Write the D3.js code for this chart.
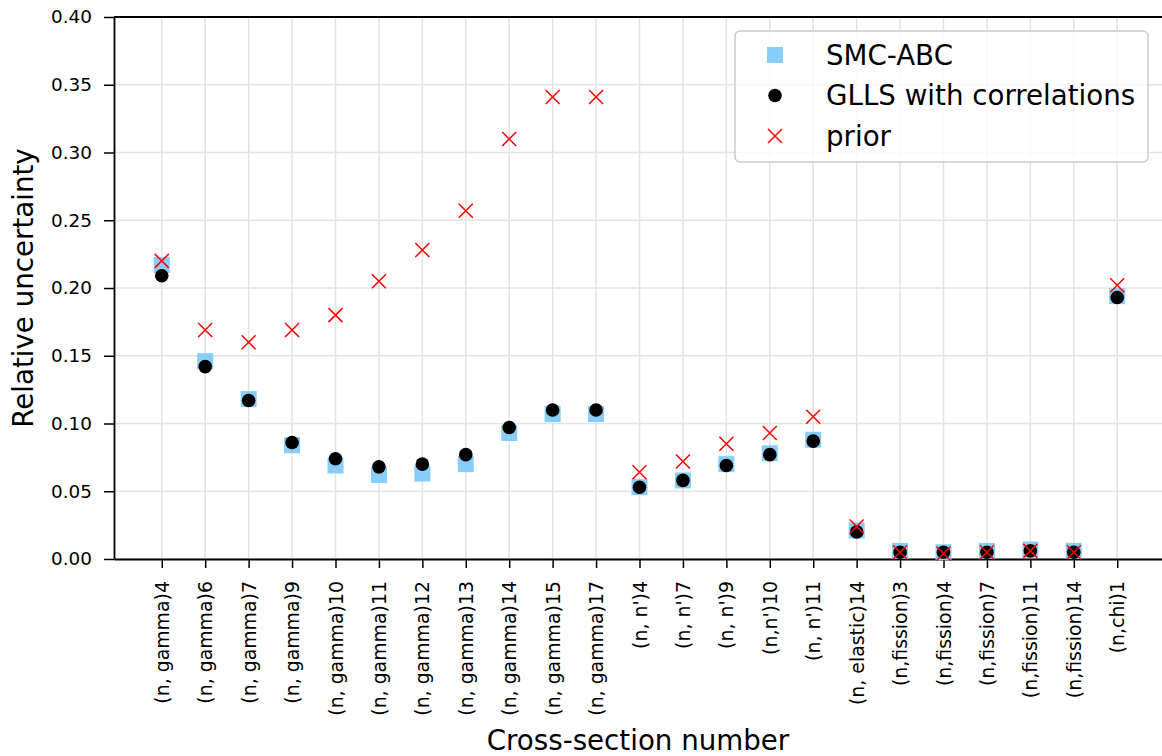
<!DOCTYPE html>
<html lang="en">
<head>
<meta charset="utf-8">
<title>Relative uncertainty per cross-section</title>
<script src="https://d3js.org/d3.v7.min.js"></script>
<style type="text/css">
  body { margin: 0; background: #fff; }
  text { font-family: "DejaVu Sans", sans-serif; }
</style>
</head>
<body>
<script type="text/javascript">
// categories on the x axis
var sections = ["(n, gamma)4", "(n, gamma)6", "(n, gamma)7", "(n, gamma)9", "(n, gamma)10",
  "(n, gamma)11", "(n, gamma)12", "(n, gamma)13", "(n, gamma)14", "(n, gamma)15", "(n, gamma)17",
  "(n, n')4", "(n, n')7", "(n, n')9", "(n,n')10", "(n, n')11", "(n, elastic)14",
  "(n,fission)3", "(n,fission)4", "(n,fission)7", "(n,fission)11", "(n,fission)14", "(n,chi)1"];

// series values
var smcAbc = [0.217, 0.146, 0.118, 0.084, 0.069, 0.062, 0.063, 0.070, 0.093, 0.107, 0.107,
  0.053, 0.058, 0.070, 0.078, 0.088, 0.021, 0.006, 0.005, 0.006, 0.007, 0.006, 0.194];
var glls = [0.209, 0.142, 0.117, 0.086, 0.074, 0.068, 0.070, 0.077, 0.097, 0.110, 0.110,
  0.053, 0.058, 0.069, 0.077, 0.087, 0.020, 0.005, 0.005, 0.005, 0.006, 0.005, 0.193];
var prior = [0.220, 0.169, 0.160, 0.169, 0.180, 0.205, 0.228, 0.257, 0.310, 0.341, 0.341,
  0.064, 0.072, 0.085, 0.093, 0.105, 0.024, 0.005, 0.004, 0.005, 0.006, 0.005, 0.202];

var yTicks = [0, 0.05, 0.10, 0.15, 0.20, 0.25, 0.30, 0.35, 0.40];
var legendLabels = ["SMC-ABC", "GLLS with correlations", "prior"];

var outerWidth = 1162, outerHeight = 756;
var margin = {top: 17, left: 114, bottom: 197};
var plotBottom = outerHeight - margin.bottom;

var svg = d3.select("body").append("svg")
  .attr("width", outerWidth)
  .attr("height", outerHeight);

//x is an index scale, matplotlib style margins of 5%
var pad = (sections.length - 1) * 0.05;
var x = d3.scaleLinear()
  .domain([-pad, sections.length - 1 + pad])
  .range([margin.left, margin.left + 1051]);

var y = d3.scaleLinear()
  .domain([0, 0.4])
  .range([plotBottom, margin.top]);

// grid
var grid = svg.append("g").attr("class", "grid");
grid.selectAll("line.gx")
  .data(d3.range(sections.length))
  .enter().append("line")
  .attr("x1", function(d) { return x(d); })
  .attr("x2", function(d) { return x(d); })
  .attr("y1", margin.top).attr("y2", plotBottom)
  .attr("stroke", "#e3e3e3").attr("stroke-width", 1.5);
grid.selectAll("line.gy")
  .data(yTicks)
  .enter().append("line")
  .attr("x1", margin.left).attr("x2", outerWidth)
  .attr("y1", function(d) { return y(d); })
  .attr("y2", function(d) { return y(d); })
  .attr("stroke", "#e3e3e3").attr("stroke-width", 1.5);

// axes
var xAxis = d3.axisBottom(x)
  .tickValues(d3.range(sections.length))
  .tickFormat(function(i) { return sections[i]; })
  .tickSize(9).tickSizeOuter(0);
var gx = svg.append("g")
  .attr("transform", "translate(0," + plotBottom + ")")
  .call(xAxis);
gx.selectAll("text")
  .attr("font-size", 18.9)
  .attr("fill", "#000")
  .attr("transform", "rotate(-90)")
  .attr("text-anchor", "end")
  .attr("x", -22)
  .attr("y", 0)
  .attr("dy", "0.35em");

var yAxis = d3.axisLeft(y)
  .tickValues(yTicks)
  .tickFormat(d3.format(".2f"))
  .tickSize(10).tickSizeOuter(0).tickPadding(12);
var gy = svg.append("g")
  .attr("transform", "translate(" + margin.left + ",0)")
  .call(yAxis);
gy.selectAll("text").attr("font-size", 18.4).attr("fill", "#000");

svg.selectAll(".domain").attr("stroke", "#000").attr("stroke-width", 1.8);
svg.selectAll(".tick line").attr("stroke", "#000").attr("stroke-width", 1.5);

// top spine
svg.append("line")
  .attr("x1", margin.left).attr("x2", outerWidth)
  .attr("y1", margin.top).attr("y2", margin.top)
  .attr("stroke", "#000").attr("stroke-width", 1.8);

// axis titles
svg.append("text")
  .attr("x", (margin.left + outerWidth) / 2)
  .attr("y", 750)
  .attr("text-anchor", "middle")
  .attr("font-size", 27.7)
  .text("Cross-section number");
svg.append("text")
  .attr("transform", "translate(32.5," + ((margin.top + plotBottom) / 2) + ") rotate(-90)")
  .attr("text-anchor", "middle")
  .attr("font-size", 27.7)
  .text("Relative uncertainty");

// marks
var sq = 16;
svg.append("g").selectAll("rect")
  .data(smcAbc)
  .enter().append("rect")
  .attr("x", function(d, i) { return x(i) - sq / 2; })
  .attr("y", function(d) { return y(d) - sq / 2; })
  .attr("width", sq).attr("height", sq)
  .attr("fill", "#87cefa");

svg.append("g").selectAll("circle")
  .data(glls)
  .enter().append("circle")
  .attr("cx", function(d, i) { return x(i); })
  .attr("cy", function(d) { return y(d); })
  .attr("r", 6.8)
  .attr("fill", "#000");

var xs = 7;
function cross(cx, cy) {
  return "M" + (cx - xs) + "," + (cy - xs) + "L" + (cx + xs) + "," + (cy + xs) +
    "M" + (cx - xs) + "," + (cy + xs) + "L" + (cx + xs) + "," + (cy - xs);
}
svg.append("g").selectAll("path")
  .data(prior)
  .enter().append("path")
  .attr("d", function(d, i) { return cross(x(i), y(d)); })
  .attr("stroke", "#ff0000").attr("stroke-width", 1.5).attr("fill", "none");

// legend
var legend = svg.append("g").attr("transform", "translate(735,31)");
legend.append("rect")
  .attr("width", 413).attr("height", 131)
  .attr("rx", 5)
  .attr("fill", "#fff").attr("fill-opacity", 0.8)
  .attr("stroke", "#cccccc").attr("stroke-width", 1.5);
var rows = legend.selectAll("g.row")
  .data(legendLabels)
  .enter().append("g")
  .attr("transform", function(d, i) { return "translate(0," + (24 + i * 40.5) + ")"; });
rows.append("text")
  .attr("x", 91).attr("dy", "0.35em")
  .attr("font-size", 27.7)
  .text(function(d) { return d; });
rows.filter(function(d, i) { return i === 0; }).append("rect")
  .attr("x", 40 - sq / 2).attr("y", -sq / 2)
  .attr("width", sq).attr("height", sq).attr("fill", "#87cefa");
rows.filter(function(d, i) { return i === 1; }).append("circle")
  .attr("cx", 40).attr("r", 6.8).attr("fill", "#000");
rows.filter(function(d, i) { return i === 2; }).append("path")
  .attr("d", cross(40, 0))
  .attr("stroke", "#ff0000").attr("stroke-width", 1.5).attr("fill", "none");
</script>
</body>
</html>
